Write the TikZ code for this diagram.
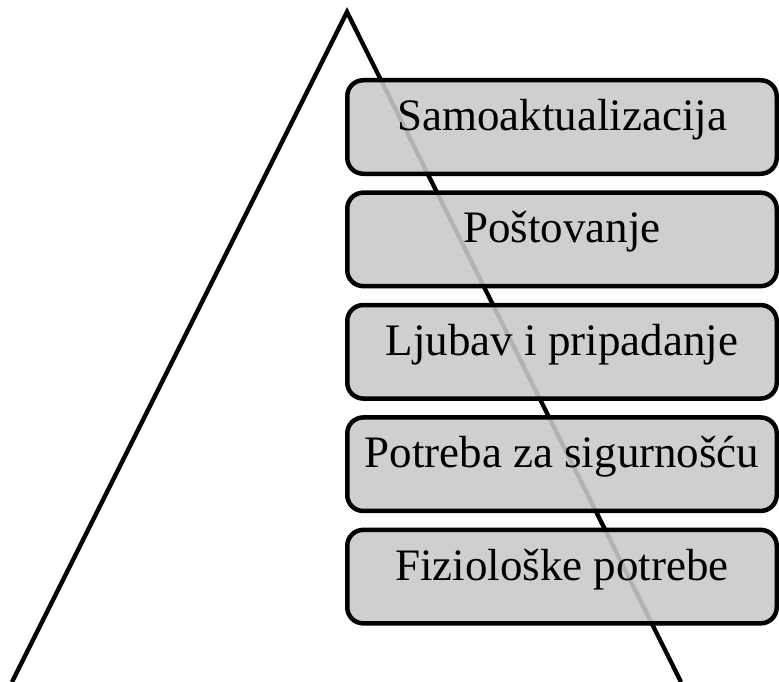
\documentclass[tikz,border=0pt]{standalone}
\usepackage{fontspec}
\setmainfont{Liberation Serif}
\usetikzlibrary{positioning}

\definecolor{boxgray}{gray}{0.79}

\tikzset{
  level/.style={draw, line width=4.5pt, rounded corners=16pt,
    fill=boxgray, fill opacity=0.89, text opacity=1,
    minimum width=429.5pt, minimum height=93.5pt,
    text height=0.82em, text depth=0.14em,
    font=\fontsize{45}{50}\selectfont},
  side/.style={line width=4.3pt}
}

\begin{document}
\begin{tikzpicture}[x=1pt, y=1pt, node distance=14.4pt]
		\useasboundingbox (0,0) rectangle (779,-682);

		% Define the triangle
		\coordinate (top) at (347,-12);
		\coordinate (bl) at (12,-682);
		\coordinate (br) at (681,-682);
		\draw[side] (bl) -- (top) -- (br);

		% Define nodes
		\node[level] (L5) at (562,-127) {Samoaktualizacija};
		\node[level, below=of L5] (L4) {Poštovanje};
		\node[level, below=of L4] (L3) {Ljubav i pripadanje};
		\node[level, below=of L3] (L2) {Potreba za sigurnošću};
		\node[level, below=of L2] (L1) {Fiziološke potrebe};
	\end{tikzpicture}
\end{document}
